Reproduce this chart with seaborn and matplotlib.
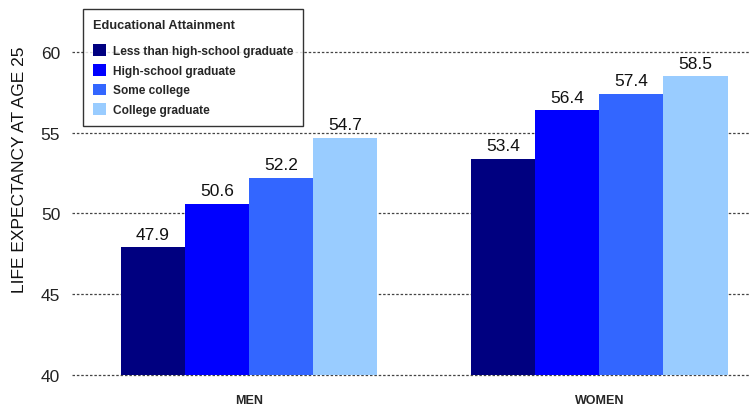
import matplotlib
matplotlib.use("Agg")
import matplotlib.pyplot as plt
import seaborn as sns
import pandas as pd

sns.set_theme(style="white")
plt.rcParams["font.family"] = ["Liberation Sans", "DejaVu Sans"]

groups = ["MEN", "WOMEN"]
attainment = ["Less than high-school graduate", "High-school graduate",
              "Some college", "College graduate"]
men = [47.9, 50.6, 52.2, 54.7]
women = [53.4, 56.4, 57.4, 58.5]
colors = ["#000080", "#0000FF", "#3366FF", "#99CCFF"]

df = pd.DataFrame({
    "group": [g for g in groups for _ in attainment],
    "attainment": attainment * 2,
    "value": men + women,
})

fig = plt.figure(figsize=(7.5, 4.06), dpi=100)
ax = fig.add_axes([0.096, 0.074, 0.903, 0.7955])

sns.barplot(data=df, x="group", y="value", hue="attainment",
            hue_order=attainment, palette=colors, width=0.73,
            saturation=1, ax=ax, legend=True, linewidth=0)

ax.set_ylim(40, 60)
ax.set_xlim(-0.504, 1.427)
ax.set_yticks([40, 45, 50, 55, 60])
ax.yaxis.grid(True, linestyle=(0, (2, 1.5)), color="#444444", linewidth=0.9)
for gl in ax.get_ygridlines():
    gl.set_clip_on(False)
ax.set_axisbelow(True)
for s in ax.spines.values():
    s.set_visible(False)

ax.tick_params(axis="y", labelsize=12.5, pad=8.5, colors="#222222", length=0)
ax.tick_params(axis="x", labelsize=9, pad=14, length=0)
for lbl in ax.get_xticklabels():
    lbl.set_fontweight("bold")
ax.set_xlabel("")
ax.set_ylabel("LIFE EXPECTANCY AT AGE 25", fontsize=12.5, color="#111111")
ax.yaxis.set_label_coords(-0.066, 0.64)

for cont in ax.containers:
    ax.bar_label(cont, fmt="%.1f", padding=4, fontsize=12.5, color="#111111")

handles, labels = ax.get_legend_handles_labels()
ax.get_legend().remove()
leg = fig.legend(handles, labels, title="Educational Attainment",
                 loc="upper left", bbox_to_anchor=(77 / 750, 1 - 4 / 406),
                 frameon=True, fancybox=False, edgecolor="black",
                 prop={"size": 8.6, "weight": "bold"},
                 title_fontproperties={"size": 9.2, "weight": "bold"},
                 handlelength=1.15, handleheight=1.15, handletextpad=0.6,
                 labelspacing=0.55, borderpad=0.8, alignment="left")
leg.get_frame().set_linewidth(1.0)
leg._legend_box.sep = 10

fig.savefig("out.png", dpi=100)
